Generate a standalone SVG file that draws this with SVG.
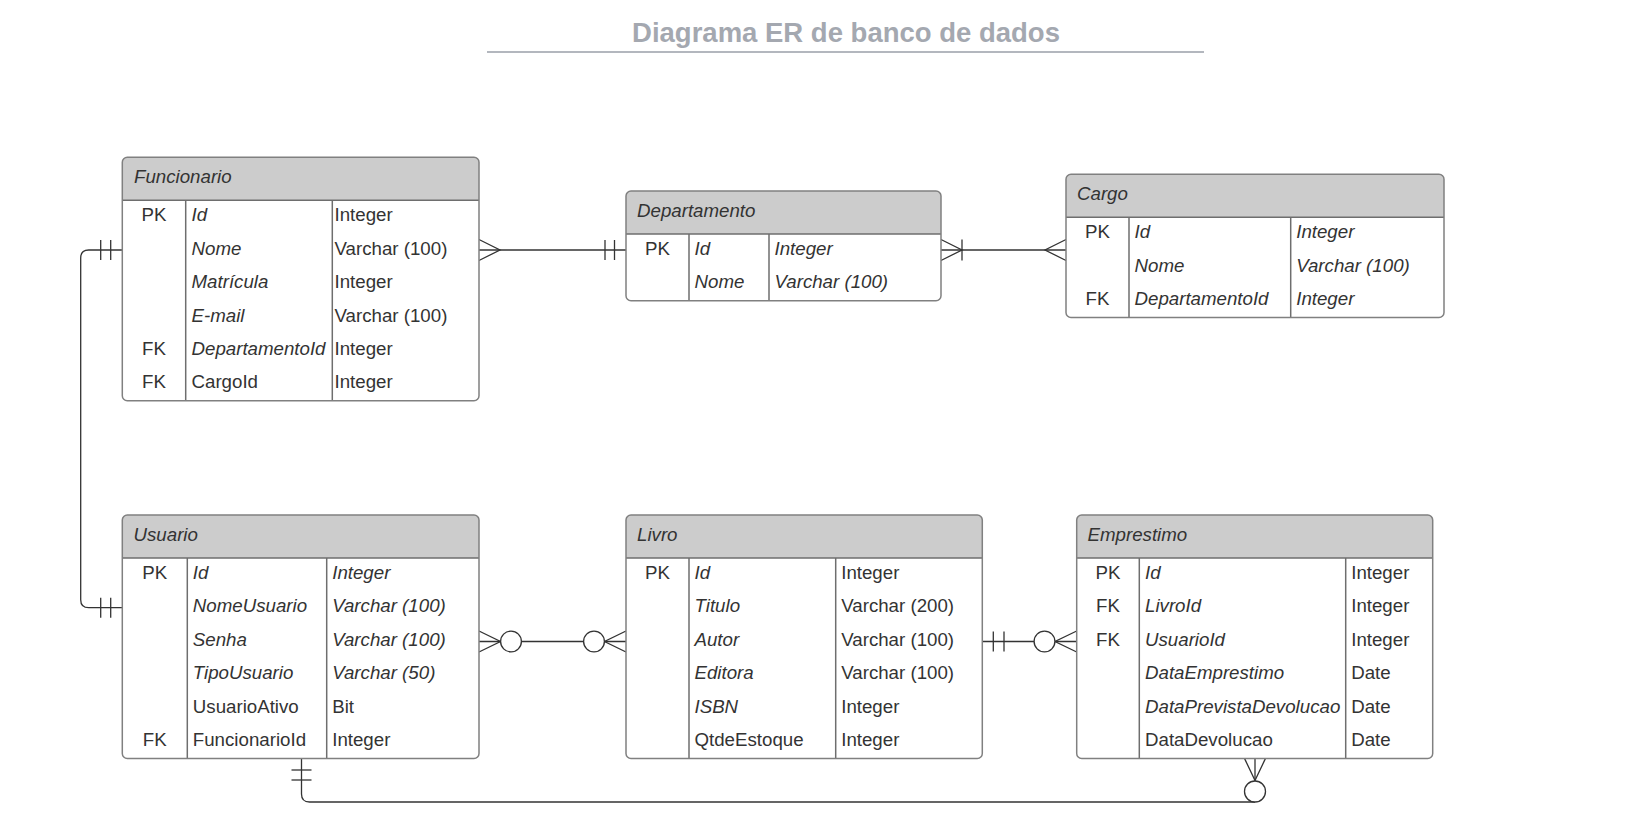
<svg xmlns="http://www.w3.org/2000/svg" width="1627" height="833" viewBox="0 0 1627 833">
<style>
.body{fill:#ffffff}
.hdr{fill:#cccccc}
.frame{fill:none;stroke:#808080;stroke-width:1.5}
.ln{stroke:#6e6e6e;stroke-width:1.5}
text{font-family:"Liberation Sans",Arial,sans-serif;font-size:18.7px;fill:#333333}
.i{font-style:italic}
.k{text-anchor:middle}
.title{font-size:27.5px;font-weight:bold;fill:#a4a8b0;text-anchor:middle}
.conn{fill:none;stroke:#333333;stroke-width:1.3}
.circ{fill:#ffffff;stroke:#333333;stroke-width:1.3}
</style>
<rect width="1627" height="833" fill="#ffffff"/>
<g id="title">
<text class="title" x="846" y="42">Diagrama ER de banco de dados</text>
<line x1="487" y1="52" x2="1204" y2="52" stroke="#b3b7be" stroke-width="2"/>
</g>

<g id="connectors">
<!-- Funcionario - Departamento -->
<line class="conn" x1="479" y1="250" x2="626" y2="250"/>
<path class="conn" d="M479,239.5 L500,250 L479,260.5"/>
<line class="conn" x1="605" y1="240" x2="605" y2="260"/>
<line class="conn" x1="614.5" y1="240" x2="614.5" y2="260"/>
<!-- Departamento - Cargo -->
<line class="conn" x1="941" y1="250" x2="1066" y2="250"/>
<path class="conn" d="M941,239.5 L962,250 L941,260.5"/>
<line class="conn" x1="962" y1="239.5" x2="962" y2="260.5"/>
<path class="conn" d="M1066,239.5 L1045,250 L1066,260.5"/>
<!-- Funcionario - Usuario -->
<path class="conn" d="M122.3,250 H88.7 Q80.7,250 80.7,258 V599.7 Q80.7,607.7 88.7,607.7 H122.3"/>
<line class="conn" x1="100.7" y1="240" x2="100.7" y2="260"/>
<line class="conn" x1="110.7" y1="240" x2="110.7" y2="260"/>
<line class="conn" x1="100.7" y1="597.7" x2="100.7" y2="617.7"/>
<line class="conn" x1="110.7" y1="597.7" x2="110.7" y2="617.7"/>
<!-- Usuario - Livro -->
<line class="conn" x1="479" y1="641.5" x2="626" y2="641.5"/>
<path class="conn" d="M479,631 L500.5,641.5 L479,652"/>
<circle class="circ" cx="511" cy="641.5" r="10.4"/>
<path class="conn" d="M626,631 L604.5,641.5 L626,652"/>
<circle class="circ" cx="594" cy="641.5" r="10.4"/>
<!-- Livro - Emprestimo -->
<line class="conn" x1="982.3" y1="641.5" x2="1076.7" y2="641.5"/>
<line class="conn" x1="993.3" y1="631.5" x2="993.3" y2="651.5"/>
<line class="conn" x1="1004" y1="631.5" x2="1004" y2="651.5"/>
<path class="conn" d="M1076.7,631 L1055,641.5 L1076.7,652"/>
<circle class="circ" cx="1044.5" cy="641.5" r="10.4"/>
<!-- Usuario - Emprestimo -->
<path class="conn" d="M301.5,758.4 V794 Q301.5,802 309.5,802 H1255"/>
<line class="conn" x1="291.5" y1="770" x2="311.5" y2="770"/>
<line class="conn" x1="291.5" y1="780" x2="311.5" y2="780"/>
<line class="conn" x1="1255" y1="758.4" x2="1255" y2="781"/>
<path class="conn" d="M1244.5,758.4 L1255,780.5 L1265.5,758.4"/>
<circle class="circ" cx="1255" cy="791.5" r="10.5"/>
</g>

<g id="funcionario">
<rect class="body" x="122.3" y="157.3" width="356.7" height="243.4" rx="5"/>
<path class="hdr" d="M122.3,162.3 A5,5 0 0 1 127.3,157.3 H474 A5,5 0 0 1 479,162.3 V200.3 H122.3 Z"/>
<line class="ln" x1="122.3" y1="200.3" x2="479" y2="200.3"/>
<line class="ln" x1="185.7" y1="200.3" x2="185.7" y2="400.7"/>
<line class="ln" x1="332.3" y1="200.3" x2="332.3" y2="400.7"/>
<rect class="frame" x="122.3" y="157.3" width="356.7" height="243.4" rx="5"/>
<text class="i" x="134" y="183.3">Funcionario</text>
<text class="k" x="154" y="221.3">PK</text>
<text class="i" x="191.5" y="221.3">Id</text>
<text x="334.5" y="221.3">Integer</text>
<text class="i" x="191.5" y="254.7">Nome</text>
<text x="334.5" y="254.7">Varchar (100)</text>
<text class="i" x="191.5" y="288.1">Matrícula</text>
<text x="334.5" y="288.1">Integer</text>
<text class="i" x="191.5" y="321.5">E-mail</text>
<text x="334.5" y="321.5">Varchar (100)</text>
<text class="k" x="154" y="354.9">FK</text>
<text class="i" x="191.5" y="354.9">DepartamentoId</text>
<text x="334.5" y="354.9">Integer</text>
<text class="k" x="154" y="388.3">FK</text>
<text x="191.5" y="388.3">CargoId</text>
<text x="334.5" y="388.3">Integer</text>
</g>

<g id="departamento">
<rect class="body" x="626" y="191" width="315" height="109.8" rx="5"/>
<path class="hdr" d="M626,196 A5,5 0 0 1 631,191 H936 A5,5 0 0 1 941,196 V234 H626 Z"/>
<line class="ln" x1="626" y1="234" x2="941" y2="234"/>
<line class="ln" x1="689" y1="234" x2="689" y2="300.8"/>
<line class="ln" x1="769" y1="234" x2="769" y2="300.8"/>
<rect class="frame" x="626" y="191" width="315" height="109.8" rx="5"/>
<text class="i" x="637" y="217">Departamento</text>
<text class="k" x="657.5" y="255">PK</text>
<text class="i" x="694.5" y="255">Id</text>
<text class="i" x="774.5" y="255">Integer</text>
<text class="i" x="694.5" y="288.4">Nome</text>
<text class="i" x="774.5" y="288.4">Varchar (100)</text>
</g>

<g id="cargo">
<rect class="body" x="1066" y="174.3" width="378" height="143.2" rx="5"/>
<path class="hdr" d="M1066,179.3 A5,5 0 0 1 1071,174.3 H1439 A5,5 0 0 1 1444,179.3 V217.3 H1066 Z"/>
<line class="ln" x1="1066" y1="217.3" x2="1444" y2="217.3"/>
<line class="ln" x1="1129" y1="217.3" x2="1129" y2="317.5"/>
<line class="ln" x1="1290.7" y1="217.3" x2="1290.7" y2="317.5"/>
<rect class="frame" x="1066" y="174.3" width="378" height="143.2" rx="5"/>
<text class="i" x="1077" y="200.3">Cargo</text>
<text class="k" x="1097.5" y="238.3">PK</text>
<text class="i" x="1134.5" y="238.3">Id</text>
<text class="i" x="1296.2" y="238.3">Integer</text>
<text class="i" x="1134.5" y="271.7">Nome</text>
<text class="i" x="1296.2" y="271.7">Varchar (100)</text>
<text class="k" x="1097.5" y="305.1">FK</text>
<text class="i" x="1134.5" y="305.1">DepartamentoId</text>
<text class="i" x="1296.2" y="305.1">Integer</text>
</g>

<g id="usuario">
<rect class="body" x="122.3" y="515" width="356.7" height="243.4" rx="5"/>
<path class="hdr" d="M122.3,520 A5,5 0 0 1 127.3,515 H474 A5,5 0 0 1 479,520 V558 H122.3 Z"/>
<line class="ln" x1="122.3" y1="558" x2="479" y2="558"/>
<line class="ln" x1="187.3" y1="558" x2="187.3" y2="758.4"/>
<line class="ln" x1="326.7" y1="558" x2="326.7" y2="758.4"/>
<rect class="frame" x="122.3" y="515" width="356.7" height="243.4" rx="5"/>
<text class="i" x="133.5" y="541">Usuario</text>
<text class="k" x="154.8" y="579">PK</text>
<text class="i" x="192.8" y="579">Id</text>
<text class="i" x="332.2" y="579">Integer</text>
<text class="i" x="192.8" y="612.4">NomeUsuario</text>
<text class="i" x="332.2" y="612.4">Varchar (100)</text>
<text class="i" x="192.8" y="645.8">Senha</text>
<text class="i" x="332.2" y="645.8">Varchar (100)</text>
<text class="i" x="192.8" y="679.2">TipoUsuario</text>
<text class="i" x="332.2" y="679.2">Varchar (50)</text>
<text x="192.8" y="712.6">UsuarioAtivo</text>
<text x="332.2" y="712.6">Bit</text>
<text class="k" x="154.8" y="746">FK</text>
<text x="192.8" y="746">FuncionarioId</text>
<text x="332.2" y="746">Integer</text>
</g>

<g id="livro">
<rect class="body" x="626" y="515" width="356.3" height="243.4" rx="5"/>
<path class="hdr" d="M626,520 A5,5 0 0 1 631,515 H977.3 A5,5 0 0 1 982.3,520 V558 H626 Z"/>
<line class="ln" x1="626" y1="558" x2="982.3" y2="558"/>
<line class="ln" x1="689" y1="558" x2="689" y2="758.4"/>
<line class="ln" x1="835.7" y1="558" x2="835.7" y2="758.4"/>
<rect class="frame" x="626" y="515" width="356.3" height="243.4" rx="5"/>
<text class="i" x="637" y="541">Livro</text>
<text class="k" x="657.5" y="579">PK</text>
<text class="i" x="694.5" y="579">Id</text>
<text x="841.2" y="579">Integer</text>
<text class="i" x="694.5" y="612.4">Titulo</text>
<text x="841.2" y="612.4">Varchar (200)</text>
<text class="i" x="694.5" y="645.8">Autor</text>
<text x="841.2" y="645.8">Varchar (100)</text>
<text class="i" x="694.5" y="679.2">Editora</text>
<text x="841.2" y="679.2">Varchar (100)</text>
<text class="i" x="694.5" y="712.6">ISBN</text>
<text x="841.2" y="712.6">Integer</text>
<text x="694.5" y="746">QtdeEstoque</text>
<text x="841.2" y="746">Integer</text>
</g>

<g id="emprestimo">
<rect class="body" x="1076.7" y="515" width="356" height="243.4" rx="5"/>
<path class="hdr" d="M1076.7,520 A5,5 0 0 1 1081.7,515 H1427.7 A5,5 0 0 1 1432.7,520 V558 H1076.7 Z"/>
<line class="ln" x1="1076.7" y1="558" x2="1432.7" y2="558"/>
<line class="ln" x1="1139.3" y1="558" x2="1139.3" y2="758.4"/>
<line class="ln" x1="1345.7" y1="558" x2="1345.7" y2="758.4"/>
<rect class="frame" x="1076.7" y="515" width="356" height="243.4" rx="5"/>
<text class="i" x="1087.5" y="541">Emprestimo</text>
<text class="k" x="1108" y="579">PK</text>
<text class="i" x="1145" y="579">Id</text>
<text x="1351.2" y="579">Integer</text>
<text class="k" x="1108" y="612.4">FK</text>
<text class="i" x="1145" y="612.4">LivroId</text>
<text x="1351.2" y="612.4">Integer</text>
<text class="k" x="1108" y="645.8">FK</text>
<text class="i" x="1145" y="645.8">UsuarioId</text>
<text x="1351.2" y="645.8">Integer</text>
<text class="i" x="1145" y="679.2">DataEmprestimo</text>
<text x="1351.2" y="679.2">Date</text>
<text class="i" x="1145" y="712.6">DataPrevistaDevolucao</text>
<text x="1351.2" y="712.6">Date</text>
<text x="1145" y="746">DataDevolucao</text>
<text x="1351.2" y="746">Date</text>
</g>
</svg>
